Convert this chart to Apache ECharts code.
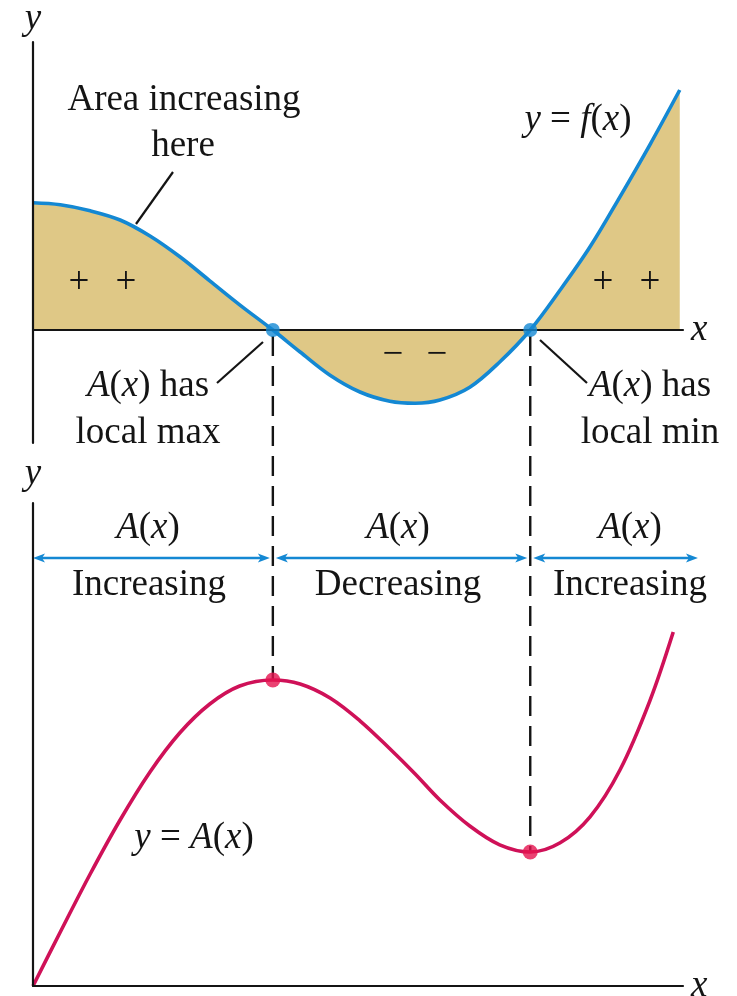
<!DOCTYPE html>
<html>
<head>
<meta charset="utf-8">
<script src="https://cdn.jsdelivr.net/npm/echarts@6/dist/echarts.min.js"></script>
<style>
  html, body { margin: 0; padding: 0; background: #ffffff; }
  #chart { width: 737px; height: 996px; }
</style>
</head>
<body>
<div id="chart"></div>
<script>
// Integrand y = f(x): sample points along the curve
const fX = [0, 0.42, 0.88, 1.34, 1.80, 2.26, 2.72, 3.18, 3.69, 4.11, 4.57, 5.03, 5.49, 5.88, 6.26, 6.72, 7.18, 7.65, 8.11, 8.57, 9.03, 9.49, 9.95];
const fY = [3.18, 3.13, 2.98, 2.75, 2.35, 1.83, 1.23, 0.63, 0, -0.55, -1.13, -1.55, -1.78, -1.83, -1.75, -1.43, -0.80, 0, 1.00, 2.08, 3.33, 4.63, 6.00];

// Accumulated area y = A(x)
const aX = [0, 0.42, 0.88, 1.34, 1.80, 2.26, 2.72, 3.18, 3.69, 4.11, 4.57, 5.03, 5.49, 5.88, 6.26, 6.72, 7.18, 7.65, 8.11, 8.57, 9.03, 9.49, 9.85];
const aY = [0, 1.35, 2.80, 4.15, 5.35, 6.33, 7.05, 7.50, 7.65, 7.55, 7.20, 6.63, 5.93, 5.30, 4.65, 4.00, 3.53, 3.35, 3.58, 4.23, 5.40, 7.13, 8.85];

// Zeros of f = local extrema of A
const critX = [3.69, 7.65];
const critA = [7.65, 3.35];

// Monotonicity intervals shown by the double arrows
const spanStart = [0, 3.69, 7.65];
const spanEnd = [3.69, 7.65, 10.23];
const spanLevel = 10.7;
const spanWords = ['Increasing', 'Decreasing', 'Increasing'];

const SERIF = '"Liberation Serif", "DejaVu Serif", serif';
const FS = 37;
const BLUE = '#1488d3';
const TAN = '#dfc886';
const RED = '#cf1158';
const DOT_RED = '#e5134f';
const INK = '#141414';

const rich = {
  i: { fontFamily: SERIF, fontSize: FS, fontStyle: 'italic', fill: INK },
  r: { fontFamily: SERIF, fontSize: FS, fill: INK }
};
const AX = '{i|A}{r|(}{i|x}{r|)}';

function txt(id, text, x, y) {
  return {
    type: 'text', id: id, x: x, y: y, z: 20,
    style: {
      text: text, rich: rich, fontFamily: SERIF, fontSize: FS, fill: INK,
      align: 'center', verticalAlign: 'middle'
    }
  };
}
function seg(id, x1, y1, x2, y2) {
  return {
    type: 'line', id: id, z: 20,
    shape: { x1: x1, y1: y1, x2: x2, y2: y2 },
    style: { stroke: INK, lineWidth: 2.2 }
  };
}

const axisLine = { show: true, onZero: true, lineStyle: { color: INK, width: 2.2 } };
const axisName = { fontFamily: SERIF, fontSize: FS, fontStyle: 'italic', color: INK };

function xAx(gridIndex) {
  return {
    type: 'value', gridIndex: gridIndex, min: 0, max: 10, z: 10,
    axisLine: axisLine, axisTick: { show: false }, axisLabel: { show: false },
    splitLine: { show: false },
    name: 'x', nameLocation: 'end', nameGap: 8, nameTextStyle: axisName
  };
}
function yAx(gridIndex, min, max, gap) {
  return {
    type: 'value', gridIndex: gridIndex, min: min, max: max, z: 10,
    axisLine: axisLine, axisTick: { show: false }, axisLabel: { show: false },
    splitLine: { show: false },
    name: 'y', nameLocation: 'end', nameGap: gap, nameTextStyle: axisName
  };
}

const chart = echarts.init(document.getElementById('chart'), null, { renderer: 'canvas' });

const option = {
  animation: false,
  backgroundColor: '#ffffff',
  grid: [
    { left: 33, top: 42, width: 650, height: 401, outerBoundsMode: 'none', containLabel: false },
    { left: 33, top: 503, width: 650, height: 483, outerBoundsMode: 'none', containLabel: false }
  ],
  xAxis: [xAx(0), xAx(1)],
  yAxis: [yAx(0, -2.825, 7.2, 4), yAx(1, 0, 12.075, 10)],
  series: [
    {
      type: 'line', xAxisIndex: 0, yAxisIndex: 0, z: 3,
      data: fX.map((x, i) => [x, fY[i]]),
      smooth: 0.35, showSymbol: false,
      lineStyle: { color: BLUE, width: 3.6 },
      areaStyle: { color: TAN, opacity: 1, origin: 0 }
    },
    {
      type: 'scatter', xAxisIndex: 0, yAxisIndex: 0, z: 12,
      data: critX.map(x => [x, 0]),
      symbol: 'circle', symbolSize: 14,
      itemStyle: { color: BLUE }
    },
    {
      type: 'line', xAxisIndex: 1, yAxisIndex: 1, z: 3,
      data: aX.map((x, i) => [x, aY[i]]),
      smooth: 0.35, showSymbol: false,
      lineStyle: { color: RED, width: 3.6 }
    },
    {
      type: 'scatter', xAxisIndex: 1, yAxisIndex: 1, z: 12,
      data: critX.map((x, i) => [x, critA[i]]),
      symbol: 'circle', symbolSize: 15,
      itemStyle: { color: DOT_RED }
    },
    {
      // double-headed arrows marking where A increases / decreases
      type: 'custom', xAxisIndex: 1, yAxisIndex: 1, z: 6, clip: false,
      data: spanStart.map((s, i) => [s, spanLevel, spanEnd[i]]),
      renderItem: function (params, api) {
        const s = api.value(0), e = api.value(2), lv = api.value(1);
        const a = api.coord([s, lv]);
        const b = api.coord([e, lv]);
        const x0 = a[0] + (critX.indexOf(s) >= 0 ? 3 : 0);
        const x1 = b[0] - (critX.indexOf(e) >= 0 ? 3 : 0);
        const y = a[1];
        const L = 12, W = 4.5;
        return {
          type: 'group',
          children: [
            { type: 'line', shape: { x1: x0 + 6, y1: y, x2: x1 - 6, y2: y }, style: { stroke: BLUE, lineWidth: 2.4 } },
            { type: 'polygon', shape: { points: [[x0, y], [x0 + L, y - W], [x0 + L - 3, y], [x0 + L, y + W]] }, style: { fill: BLUE } },
            { type: 'polygon', shape: { points: [[x1, y], [x1 - L, y - W], [x1 - L + 3, y], [x1 - L, y + W]] }, style: { fill: BLUE } }
          ]
        };
      }
    }
  ],
  graphic: [
    txt('t-area1', 'Area increasing', 184, 100),
    txt('t-area2', 'here', 183, 146),
    seg('l-area', 173, 172, 136, 224),
    txt('t-fx', '{i|y}{r| = }{i|f}{r|(}{i|x}{r|)}', 578, 120),
    txt('t-p1', '+', 79, 283), txt('t-p2', '+', 126, 283),
    txt('t-p3', '+', 603, 283), txt('t-p4', '+', 650, 283),
    txt('t-m1', '\u2212', 393, 355), txt('t-m2', '\u2212', 437, 355),
    txt('t-max1', AX + '{r| has}', 148, 386),
    txt('t-max2', 'local max', 148, 433),
    seg('l-max', 217, 383, 263, 342),
    txt('t-min1', AX + '{r| has}', 650, 386),
    txt('t-min2', 'local min', 650, 433),
    seg('l-min', 540, 340, 587, 383),
    txt('t-s0a', AX, 148, 528), txt('t-s0b', spanWords[0], 149, 585),
    txt('t-s1a', AX, 398, 528), txt('t-s1b', spanWords[1], 398, 585),
    txt('t-s2a', AX, 630, 528), txt('t-s2b', spanWords[2], 630, 585),
    txt('t-ax', '{i|y}{r| = }' + AX, 194, 838)
  ]
};

chart.setOption(option);

// Dashed guides from each zero of f down to the matching extremum of A
const guides = critX.map((x, i) => {
  const p0 = chart.convertToPixel({ gridIndex: 0 }, [x, 0]);
  const p1 = chart.convertToPixel({ gridIndex: 1 }, [x, critA[i]]);
  return {
    type: 'line', id: 'guide' + i, z: 1,
    shape: { x1: p0[0], y1: p0[1] + 6, x2: p1[0], y2: p1[1] },
    style: { stroke: INK, lineWidth: 2.4, lineDash: [20, 10] }
  };
});
chart.setOption({ graphic: guides });
</script>
</body>
</html>
